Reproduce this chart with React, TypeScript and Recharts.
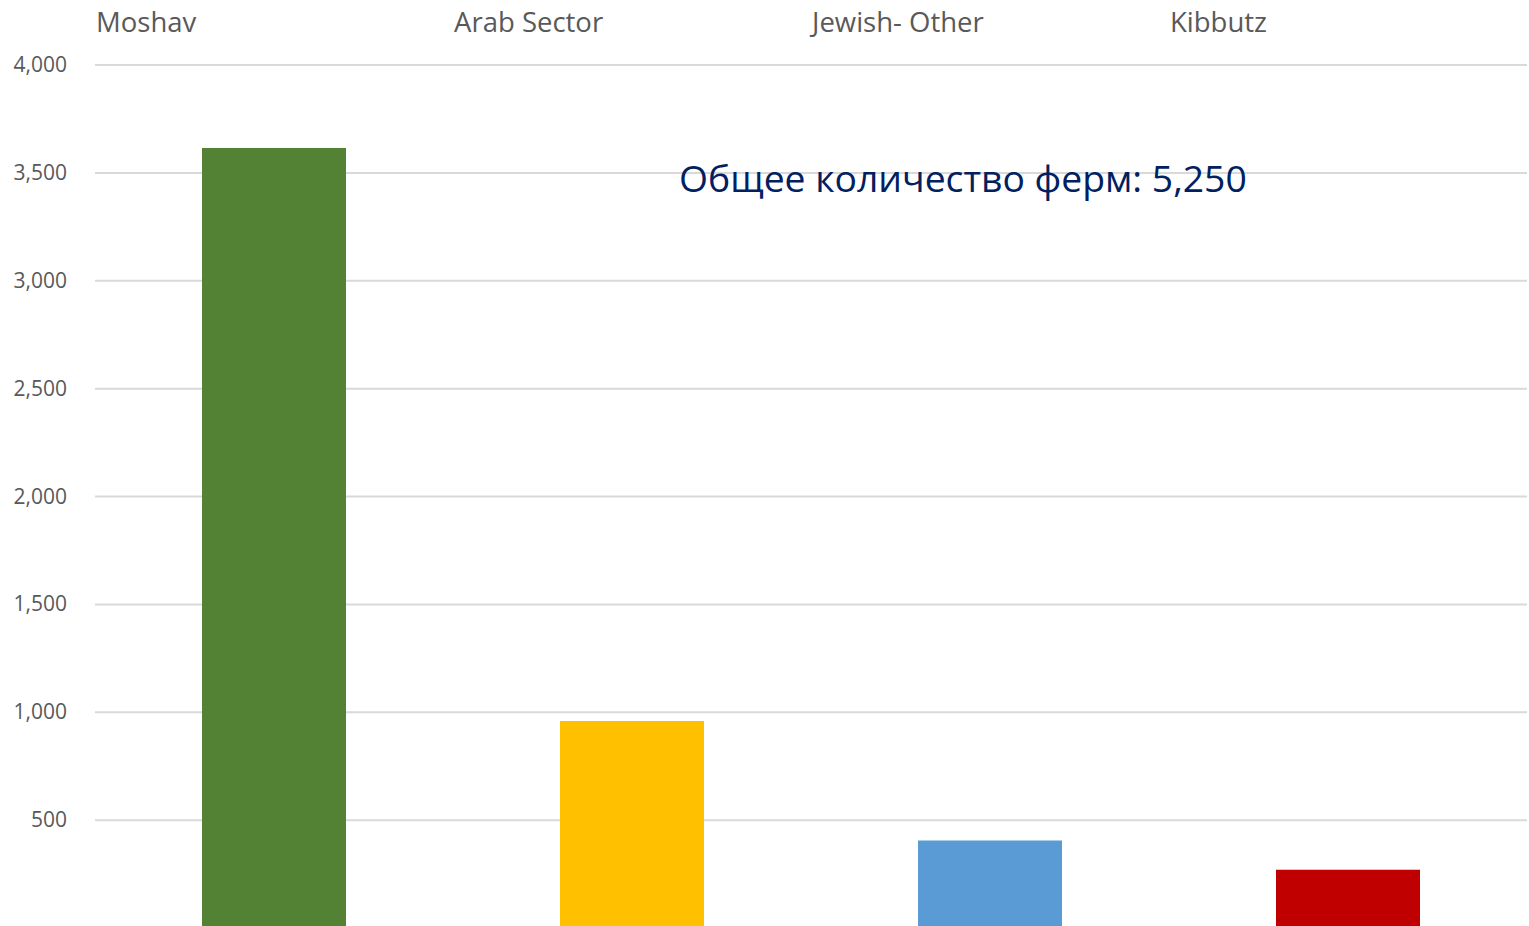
import { BarChart, Bar, XAxis, YAxis, CartesianGrid, Cell } from 'recharts';

const categories = ['Moshav', 'Arab Sector', 'Jewish- Other', 'Kibbutz'];
const farms = [3615, 960, 405, 270];
const barColors = ['#548235', '#FFC000', '#5B9BD5', '#C00000'];
const yTicks = [500, 1000, 1500, 2000, 2500, 3000, 3500, 4000];
const totalLabel = 'Общее количество ферм: 5,250';

const data = categories.map((name, i) => ({ name, farms: farms[i] }));

const FONT = '"Open Sans", "Noto Sans", sans-serif';

// category names sit at the left edge of their band, not centred
function CategoryTick(props: any) {
  const { x, payload } = props;
  const band = (1527 - 95) / categories.length;
  return (
    <text x={x - band / 2 + 1} y={32} fill="#595959" fontSize={27.5} fontFamily={FONT} textAnchor="start">
      {payload.value}
    </text>
  );
}

function ValueTick(props: any) {
  const { y, payload } = props;
  return (
    <text x={67} y={y + 7} fill="#595959" fontSize={21} fontFamily={FONT} textAnchor="end">
      {payload.value.toLocaleString('en-US')}
    </text>
  );
}

export default function App() {
  return (
    <div style={{ position: 'fixed', left: 0, top: 0, width: 1529, height: 926, overflow: 'hidden', background: '#fff' }}>
      <BarChart
        width={1529}
        height={930}
        data={data}
        margin={{ top: 0, right: 2, left: 0, bottom: 2 }}
        barCategoryGap="30%"
      >
        <CartesianGrid horizontal vertical={false} stroke="#d9d9d9" strokeWidth={2} />
        <XAxis
          dataKey="name"
          orientation="top"
          height={65}
          axisLine={false}
          tickLine={false}
          tick={<CategoryTick />}
          interval={0}
        />
        <YAxis
          width={95}
          domain={[0, 4000]}
          ticks={yTicks}
          axisLine={false}
          tickLine={false}
          tick={<ValueTick />}
        />
        <Bar dataKey="farms" barSize={144} isAnimationActive={false}>
          {data.map((d, i) => (
            <Cell key={d.name} fill={barColors[i]} />
          ))}
        </Bar>
      </BarChart>
      <div
        style={{
          position: 'absolute',
          left: 679,
          top: 153,
          fontFamily: FONT,
          fontSize: 37.3,
          color: '#002060',
          whiteSpace: 'nowrap',
          lineHeight: '50px',
        }}
      >
        {totalLabel}
      </div>
    </div>
  );
}
